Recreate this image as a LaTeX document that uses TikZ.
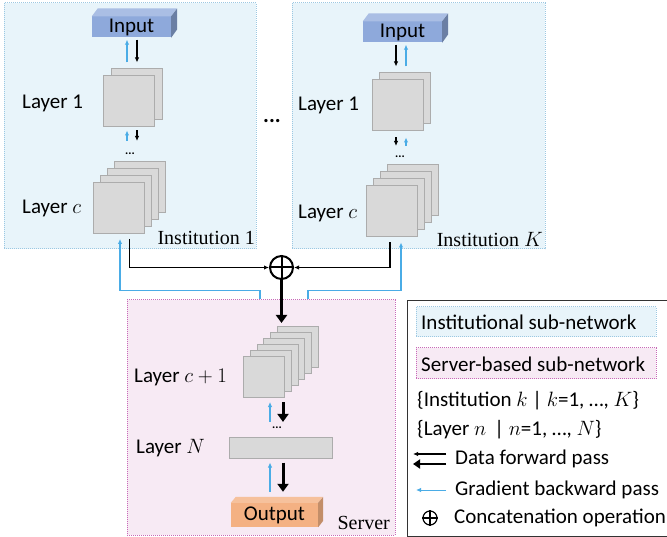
\documentclass[tikz,border=0pt]{standalone}
\usepackage{fontspec}
\setmainfont{Carlito}
\newfontfamily\serif{Liberation Serif}
\usetikzlibrary{arrows.meta,shapes}
\definecolor{instfill}{HTML}{E8F4FA}
\definecolor{instline}{HTML}{9CC8E2}
\definecolor{srvfill}{HTML}{F7EAF4}
\definecolor{srvline}{HTML}{C86AB8}
\definecolor{gradblue}{HTML}{4AACE6}
\definecolor{inblue}{HTML}{8EA9DB}
\definecolor{outorange}{HTML}{F4B183}
\definecolor{sheetgray}{HTML}{D9D9D9}

\begin{document}
\begin{tikzpicture}[x=1pt,y=-1pt,
    every node/.style={font=\fontsize{21}{25}\selectfont},
    instbox/.style={draw=instline,fill=instfill,densely dotted,line width=1pt,inner sep=0pt},
    srvbox/.style={draw=srvline,fill=srvfill,densely dotted,line width=1pt,inner sep=0pt},
    sheet/.style={draw=gray!65,fill=sheetgray,line width=1pt,minimum size=51pt,inner sep=0pt},
    block/.style={minimum height=21pt,inner sep=0pt},
    fwd/.style={-{Latex[length=5pt,width=4.5pt]},line width=1.2pt},
    bwd/.style={-{Latex[length=5pt,width=4.5pt]},line width=1.2pt,gradblue},
    bigfwd/.style={-{Triangle[length=8pt,width=11pt]},line width=3pt},
    dots/.style={font=\fontsize{12}{14}\selectfont\bfseries,inner sep=0pt},
    lbl/.style={anchor=west,inner sep=0pt},
    catop/.style={circle,draw,line width=2pt,minimum size=23pt,inner sep=0pt}
  ]
  \useasboundingbox (0,0) rectangle (667,537);

  % institution boxes
  \node[instbox,minimum width=252pt,minimum height=246pt] (inst1) at (130,126) {};
  \node[instbox,minimum width=253pt,minimum height=246pt] (instK) at (418.5,126) {};
  \node[anchor=east,inner sep=0pt,font=\fontsize{20}{24}\serif] (tinst1) at (255,238) {Institution 1};
  \node[anchor=east,inner sep=0pt,font=\fontsize{20}{24}\serif] (tinstK) at (543,240) {Institution $K$};
  \node[font=\fontsize{22}{24}\selectfont\bfseries,inner sep=0pt] (mid) at (272,121) {...};

  % server box
  \node[srvbox,minimum width=268pt,minimum height=235pt] (srv) at (261,417.5) {};
  \node[anchor=east,inner sep=0pt,font=\fontsize{20}{24}\serif] (tsrv) at (390,523) {Server};

  % input blocks
  \node[block,fill=inblue,minimum width=79pt] (in1) at (131.5,27) {Input};
  \fill[inblue!75!white] (in1.north west) -- ++(6,-8) -- ++(79,0) -- (in1.north east) -- cycle;
  \fill[inblue!75!black] (in1.north east) -- ++(6,-8) -- ++(0,21) -- (in1.south east) -- cycle;
  \node[block,fill=inblue,minimum width=79pt] (in2) at (402.5,32) {Input};
  \fill[inblue!75!white] (in2.north west) -- ++(6,-8) -- ++(79,0) -- (in2.north east) -- cycle;
  \fill[inblue!75!black] (in2.north east) -- ++(6,-8) -- ++(0,21) -- (in2.south east) -- cycle;

  % institution 1 layers
  \foreach \i in {1,0}
    \node[sheet] (la\i) at ({128.5+8*\i},{101.5-7*\i}) {};
  \foreach \i in {3,2,1,0}
    \node[sheet] (lb\i) at ({118.5+7.3*\i},{208-7*\i}) {};
  \node[lbl] (tla) at (22,103) {Layer 1};
  \node[lbl] (tlb) at (22,208) {Layer $c$};
  \node[dots] (ld) at (130,154) {...};

  % institution K layers
  \foreach \i in {1,0}
    \node[sheet] (ra\i) at ({397.5+7*\i},{105.5-7*\i}) {};
  \foreach \i in {3,2,1,0}
    \node[sheet] (rb\i) at ({391.5+7.3*\i},{211.5-7*\i}) {};
  \node[lbl] (tra) at (298,105) {Layer 1};
  \node[lbl] (trb) at (298,213) {Layer $c$};
  \node[dots] (rd) at (400,157) {...};

  % server layers
  \foreach \i in {5,4,...,0}
    \node[sheet,minimum size=41pt] (sa\i) at ({264+6.8*\i},{377-6*\i}) {};
  \node[sheet,minimum width=103pt,minimum height=21pt] (sn) at (280.5,447.5) {};
  \node[lbl] (tsa) at (134,377) {Layer $c+1$};
  \node[lbl] (tsn) at (136,448) {Layer $N$};
  \node[dots] (sd) at (277,428) {...};

  % output block
  \node[block,fill=outorange,minimum width=87pt,minimum height=24pt] (out) at (274.5,515) {Output};
  \fill[outorange!80!white] (out.north west) -- ++(5,-6) -- ++(87,0) -- (out.north east) -- cycle;
  \fill[outorange!80!black] (out.north east) -- ++(5,-6) -- ++(0,24) -- (out.south east) -- cycle;

  % concatenation
  \node[catop] (cat) at (281.5,267.5) {};
  \draw[line width=2pt] (cat.north) -- (cat.south) (cat.west) -- (cat.east);

  % arrows, institution 1
  \draw[bwd,shorten <=6pt,shorten >=2pt] ([xshift=-4.5pt]in1.south |- la1.north) -- ([xshift=-4.5pt]in1.south);
  \draw[fwd,shorten <=2pt,shorten >=6pt] ([xshift=5.5pt]in1.south) -- ([xshift=5.5pt]in1.south |- la1.north);
  \draw[bwd,shorten <=12pt,shorten >=3pt] ([xshift=-4.5pt]in1.south |- ld.north) -- ([xshift=-4.5pt]in1.south |- la0.south);
  \draw[fwd,shorten <=3pt,shorten >=12pt] ([xshift=5.5pt]in1.south |- la0.south) -- ([xshift=5.5pt]in1.south |- ld.north);

  % arrows, institution K
  \draw[fwd,shorten <=2pt,shorten >=6pt] ([xshift=-6.5pt]in2.south) -- ([xshift=-6.5pt]in2.south |- ra1.north);
  \draw[bwd,shorten <=6pt,shorten >=2pt] ([xshift=3.5pt]in2.south |- ra1.north) -- ([xshift=3.5pt]in2.south);
  \draw[fwd,shorten <=6pt,shorten >=10pt] ([xshift=-6.5pt]in2.south |- ra0.south) -- ([xshift=-6.5pt]in2.south |- rd.north);
  \draw[bwd,shorten <=10pt,shorten >=6pt] ([xshift=3.5pt]in2.south |- rd.north) -- ([xshift=3.5pt]in2.south |- ra0.south);

  % to and from the server
  \draw[fwd,line width=1.7pt,shorten <=5pt] ([xshift=11pt]lb0.south) |- (cat);
  \draw[fwd,line width=1.7pt,shorten <=5pt] ([xshift=-1.5pt]rb0.south) |- (cat);
  \draw[bwd,line width=1.6pt,shorten >=5pt] ([xshift=-1pt]srv.north) -- ++(0,-9) -| ([xshift=1.5pt]lb0.south);
  \draw[bwd,line width=1.6pt,shorten >=5pt] ([xshift=47pt]srv.north) -- ++(0,-9) -| ([xshift=9.5pt]rb0.south);
  \draw[bigfwd,shorten >=3pt] (cat) -- (cat |- sa5.north);

  % arrows, server
  \draw[bwd,shorten <=5pt,shorten >=4pt] ([xshift=6pt]sa0.south |- sd.north) -- ([xshift=6pt]sa0.south);
  \draw[bigfwd,shorten <=4pt,shorten >=5pt] ([xshift=19pt]sa0.south) -- ([xshift=19pt]sa0.south |- sd.north);
  \draw[bwd,shorten <=11pt,shorten >=4pt] ([xshift=-10.5pt]sn.south |- out.north) -- ([xshift=-10.5pt]sn.south);
  \draw[bigfwd,shorten <=4pt,shorten >=11pt] ([xshift=2.5pt]sn.south) -- ([xshift=2.5pt]sn.south |- out.north);

  % legend
  \node[draw=black!80,fill=white,line width=1pt,minimum width=265pt,minimum height=235pt,inner sep=0pt] (leg) at (539.5,418.5) {};
  \node[instbox,minimum width=240pt,minimum height=30pt] (leginst) at (536,322) {};
  \node[lbl] (tleginst) at (421,322) {Institutional sub-network};
  \node[srvbox,minimum width=240pt,minimum height=31pt] (legsrv) at (536,363.5) {};
  \node[lbl] (tlegsrv) at (421,364) {Server-based sub-network};
  \node[lbl] (tinsts) at (417,401) {\{Institution $k$ | $k$=1, …, $K$\}};
  \node[lbl] (tlays) at (417,430) {\{Layer $n$ \,| $n$=1, …, $N$\}};
  \node[lbl] (tfwd) at (455,459) {Data forward pass};
  \node[lbl] (tbwd) at (455,490) {Gradient backward pass};
  \node[lbl] (tcat) at (454,518) {Concatenation operation};
  \coordinate (fa) at (446,454);
  \coordinate (fb) at (413,454);
  \coordinate (fc) at (446,464);
  \coordinate (fd) at (413,464);
  \coordinate (ba) at (446,490);
  \coordinate (bb) at (416,490);
  \draw[fwd] (fa) -- (fb);
  \draw[-{Triangle[length=7pt,width=9pt]},line width=2.5pt] (fc) -- (fd);
  \draw[bwd,line width=1pt] (ba) -- (bb);
  \node[circle,draw,line width=1.2pt,minimum size=14pt,inner sep=0pt] (legcat) at (430,518) {};
  \draw[line width=1.2pt] (legcat.north) -- (legcat.south) (legcat.west) -- (legcat.east);
\end{tikzpicture}
\end{document}
